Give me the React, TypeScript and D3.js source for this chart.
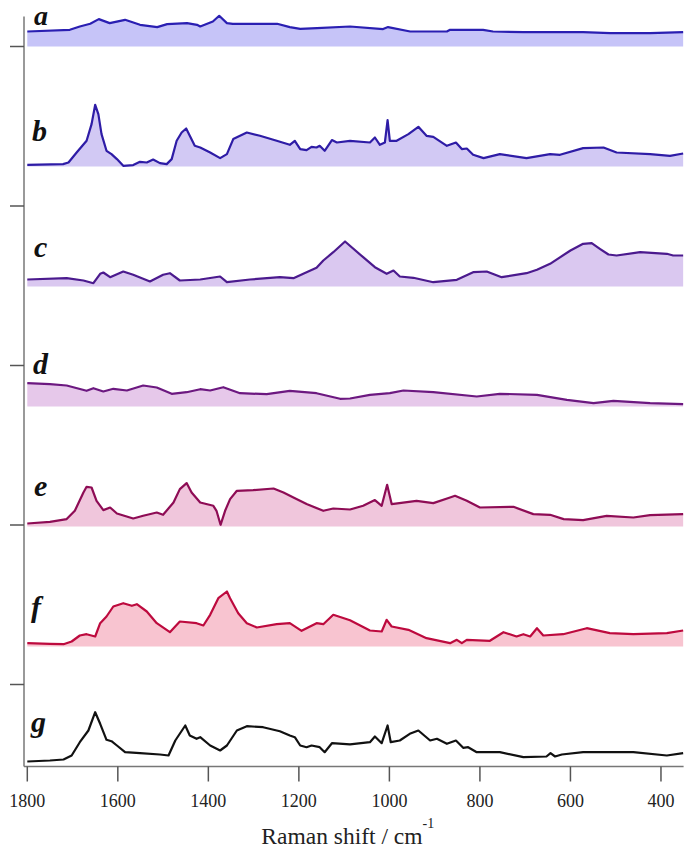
import React from "react";
import * as d3 from "d3";

type Pt = [number, number];

// Raman spectra: [wavenumber (cm^-1), intensity (a.u., above own baseline)]
const specA: Pt[] = [[1800,15],[1706,16.7],[1684,20],[1661,22.7],[1642,27.4],[1618,23.4],[1584,26.7],[1551,21.7],[1513,19.4],[1491,22.4],[1447,23.4],[1425,21.7],[1418,20],[1390,25],[1376,30.7],[1359,23.4],[1346,22.7],[1248,22.7],[1220,19.4],[1197,17.7],[1160,18.4],[1087,20],[1014,17.4],[1003,19.4],[954,15],[873,15],[866,16.7],[793,16.7],[771,15],[704,14.4],[572,14.4],[512,13.4],[424,13.4],[351,14.4]];

const specB: Pt[] = [[1800,1.7],[1721,2.4],[1709,4],[1691,14],[1669,25.7],[1658,42.4],[1650,61.7],[1643,52.4],[1636,32.4],[1625,15.7],[1614,12.4],[1602,7.4],[1588,0.7],[1566,1.4],[1551,4.7],[1536,4],[1522,7],[1507,3.4],[1492,2.4],[1481,7.4],[1470,25.7],[1459,34],[1449,38],[1441,30.7],[1430,20.7],[1418,19],[1396,14],[1374,8.4],[1359,12.4],[1345,27.4],[1330,30.7],[1315,34],[1286,30.7],[1249,25.7],[1220,21.7],[1209,25.7],[1197,17.4],[1183,16.4],[1172,19.7],[1161,19],[1154,20.7],[1143,15.7],[1127,26.4],[1116,24],[1087,25.7],[1043,24],[1032,29],[1021,21.7],[1010,24],[1004,46.4],[999,25.7],[984,25.7],[958,32.4],[936,39.7],[918,30.7],[903,29.7],[873,20.7],[853,24],[840,17.4],[829,18],[815,11.7],[792,8.4],[756,12.4],[697,8.4],[645,12.4],[623,11.7],[572,18.4],[527,19],[498,14],[424,12.4],[380,10.7],[351,13]];

const specC: Pt[] = [[1800,7],[1713,8.3],[1676,6],[1654,3.3],[1639,12.7],[1632,14],[1617,9.3],[1588,15],[1566,11.7],[1529,5],[1500,11.7],[1485,13.3],[1463,6],[1418,7],[1374,10],[1359,4.3],[1308,7],[1242,9.3],[1212,8.3],[1183,14.3],[1161,18.7],[1146,26],[1124,34.3],[1098,45],[1058,29.3],[1032,19.3],[1006,12.7],[991,16],[977,10],[947,8.7],[903,4.3],[851,6.7],[815,14.3],[785,15],[752,9.3],[697,13.3],[674,16.7],[645,22.7],[600,36],[572,42.7],[553,43.3],[535,37.7],[516,32],[498,31],[446,34.3],[387,32.7],[373,31],[351,31]];

const specD: Pt[] = [[1800,23.3],[1750,22.3],[1713,21],[1669,15.7],[1654,18.3],[1632,15],[1610,17.7],[1580,16],[1544,21],[1514,19],[1481,12.7],[1448,14.3],[1418,17.3],[1396,16],[1367,19.3],[1330,13.3],[1271,12.3],[1220,15.7],[1161,13.3],[1109,7.7],[1087,8],[1043,11.7],[999,13.3],[969,16],[903,14.3],[807,10],[756,12.7],[674,11.7],[608,6.7],[549,3.3],[505,5.7],[424,3.3],[351,2.3]];

const specE: Pt[] = [[1800,3],[1750,4.7],[1713,7.4],[1695,15.7],[1676,34],[1669,39.7],[1658,39],[1647,25.7],[1632,16.4],[1617,19],[1602,13],[1566,8],[1544,10.7],[1514,14],[1500,11.7],[1477,24],[1463,37.4],[1448,43.4],[1437,34],[1418,24],[1389,20.7],[1382,15.7],[1373,1.7],[1363,15.7],[1352,27.4],[1337,35.7],[1301,36.4],[1256,38],[1234,34],[1212,29],[1183,22.4],[1146,15.7],[1124,18],[1087,17],[1058,20.7],[1032,26.4],[1017,20.7],[1005,41.7],[995,22.4],[940,25.7],[903,23.4],[866,29],[855,30.7],[829,25.7],[800,19],[726,19.7],[682,12.4],[645,11.7],[615,7.4],[572,6.4],[520,10.7],[461,9],[424,11.4],[351,12.4]];

const specF: Pt[] = [[1800,3.3],[1750,2.7],[1720,2.3],[1702,5],[1684,11],[1669,12.3],[1650,10],[1639,23.3],[1625,30],[1610,40],[1588,43.3],[1569,40.7],[1558,42.3],[1536,35],[1514,23.3],[1485,14.3],[1463,25],[1426,23.3],[1411,21],[1396,31.7],[1378,48.3],[1359,55],[1352,48.3],[1334,33.3],[1315,23.3],[1293,19],[1249,22.3],[1220,23.3],[1194,15.7],[1161,23.3],[1146,22.3],[1124,31.7],[1087,26.2],[1043,16],[1017,15],[1006,26.7],[995,20],[958,16.7],[918,8.3],[866,3.3],[851,6.7],[840,3.3],[829,6.7],[778,5.7],[748,14.3],[719,10],[704,12.3],[689,10],[674,18.3],[660,11],[616,12.3],[564,18.3],[513,13.3],[461,12.3],[387,13.3],[351,16]];

const specG: Pt[] = [[1800,5],[1750,6],[1720,7],[1702,11],[1684,24.3],[1665,36],[1650,54.3],[1639,42.7],[1625,26.7],[1614,25.3],[1602,21],[1584,14.3],[1551,13.3],[1507,12],[1488,11],[1473,26],[1451,41],[1441,31],[1426,27.7],[1418,29.3],[1396,21],[1374,16],[1359,21],[1337,36],[1315,40.3],[1279,39.3],[1242,35.3],[1220,31],[1209,29.3],[1197,21],[1183,19.3],[1172,21],[1154,19.3],[1143,14.3],[1127,23.3],[1087,22.2],[1043,24.3],[1032,30],[1017,23.3],[1004,41],[997,24.3],[977,26],[955,32.7],[936,36],[910,26],[895,27.7],[873,22.7],[853,26],[837,18.7],[826,19.3],[807,14.3],[756,14.3],[704,9.3],[653,10],[644,13.3],[634,10],[619,12],[572,14.3],[498,14.3],[461,14.3],[387,11],[351,13.3]];

const spectra: Pt[][] = [specA, specB, specC, specD, specE, specF, specG];
const spectrumLabels = ["a", "b", "c", "d", "e", "f", "g"];
const offsets = [720, 600, 480, 360, 240, 120, 0];
const lineColors = ["#2a1fb2", "#2e1ca6", "#4b1a8e", "#6c1880", "#8e0c55", "#bd0a3e", "#111111"];
const fillColors = ["#c6c4f8", "#d2c9f4", "#dac8f0", "#e6c8ea", "#f0c6dc", "#f8c4d0", "none"];
const xTicks = [1800, 1600, 1400, 1200, 1000, 800, 600, 400];
const yTicks = [82, 241.5, 401, 560.5, 720];

const W = 700;
const H = 852;
const axisX = 24;
const axisBottom = 766.5;
const axisTop = 16.5;

export default function App() {
  const x = d3.scaleLinear().domain([1800, 350]).range([27.3, 683.6]);
  const y = d3.scaleLinear().domain([0, 750]).range([axisBottom, axisTop]);
  const serif = "'Liberation Serif', 'Times New Roman', serif";
  const labelLift = [22, 26, 30, 33, 31, 30, 35];
  const labelSize = [28, 30, 30, 30, 30, 30, 30];
  const labelX = [34, 32, 34, 33, 34, 31, 31];

  return (
    <svg width={W} height={H} style={{ position: "absolute", left: 0, top: 0, background: "#fff" }}>
      {spectra.map((s, i) => {
        const off = offsets[i];
        const line = d3.line<Pt>().x((d) => x(d[0])).y((d) => y(off + d[1]));
        const area = d3.area<Pt>().x((d) => x(d[0])).y0(y(off)).y1((d) => y(off + d[1]));
        return (
          <g key={i}>
            {fillColors[i] !== "none" && <path d={area(s) || ""} fill={fillColors[i]} stroke="none" />}
            <path d={line(s) || ""} fill="none" stroke={lineColors[i]} strokeWidth={2.2} strokeLinejoin="round" />
            <text x={labelX[i]} y={y(off + labelLift[i])} fontFamily={serif} fontStyle="italic" fontWeight="bold" fontSize={labelSize[i]} fill="#111">
              {spectrumLabels[i]}
            </text>
          </g>
        );
      })}
      {/* left axis */}
      <line x1={axisX} x2={axisX} y1={axisTop} y2={axisBottom} stroke="#777" strokeWidth={1.5} />
      {yTicks.map((t) => (
        <line key={t} x1={axisX - 14} x2={axisX} y1={y(t)} y2={y(t)} stroke="#555" strokeWidth={1.5} />
      ))}
      {/* bottom axis */}
      <line x1={axisX} x2={x(350)} y1={axisBottom} y2={axisBottom} stroke="#777" strokeWidth={1.5} />
      {xTicks.map((t) => (
        <g key={t}>
          <line x1={x(t)} x2={x(t)} y1={axisBottom} y2={axisBottom + 15} stroke="#555" strokeWidth={1.5} />
          <text x={x(t)} y={axisBottom + 40} textAnchor="middle" fontFamily={serif} fontSize={18} fill="#222">
            {t}
          </text>
        </g>
      ))}
      <text x={(axisX + x(350)) / 2 - 6} y={844} textAnchor="middle" fontFamily={serif} fontSize={23.5} fill="#222">
        Raman shift / cm
        <tspan fontSize={14} dy={-16}>-1</tspan>
      </text>
    </svg>
  );
}
